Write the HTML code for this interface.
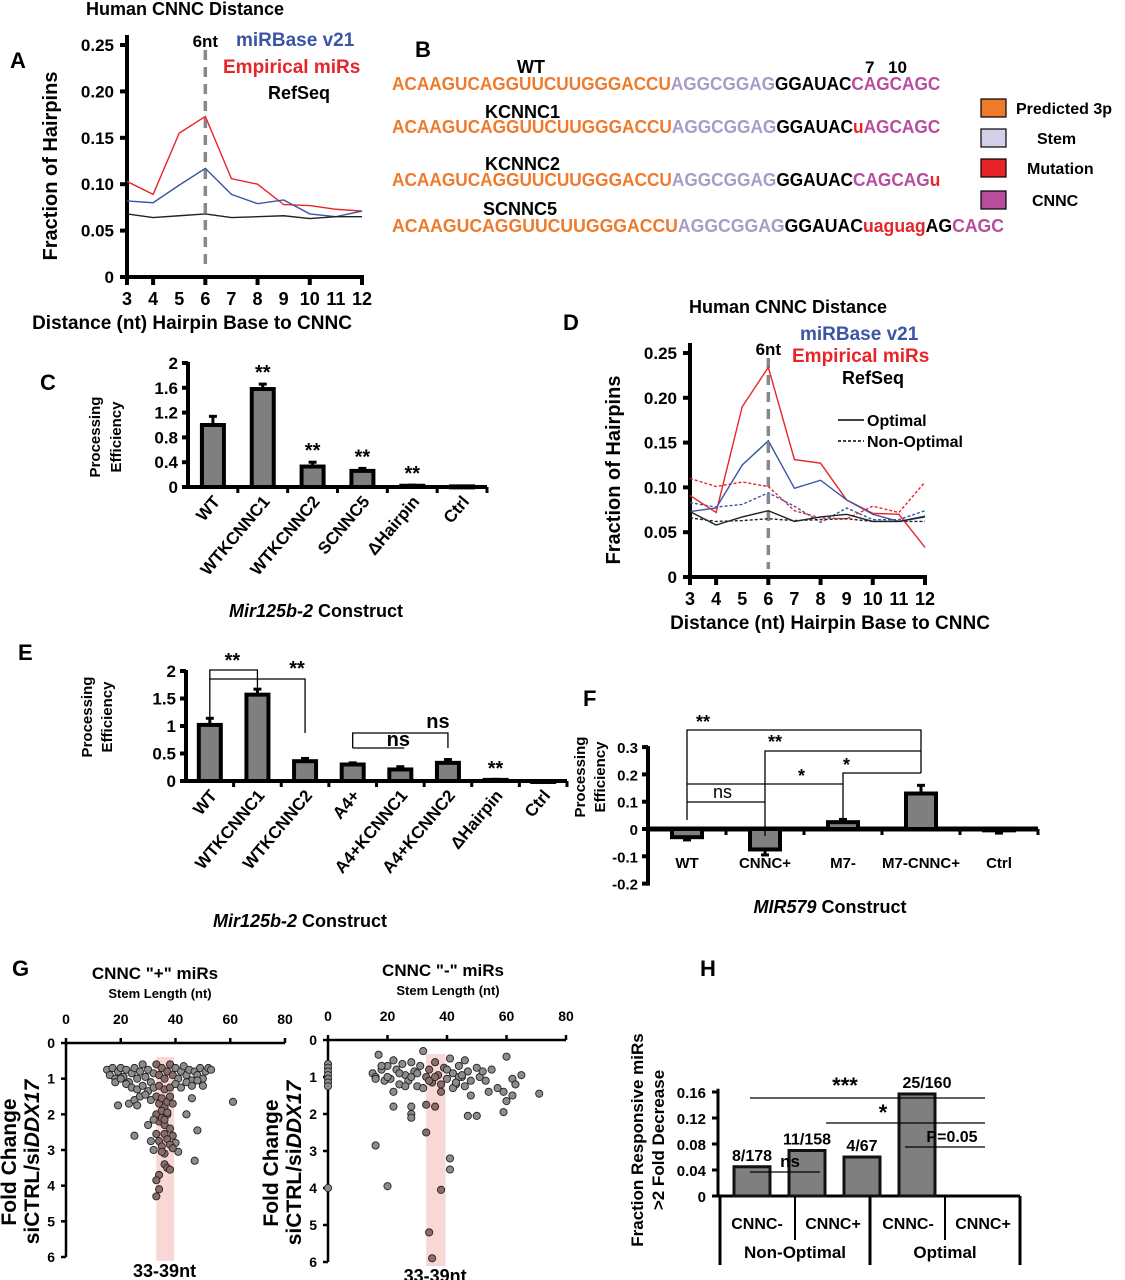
<!DOCTYPE html>
<html><head><meta charset="utf-8"><style>
body{margin:0;background:#fff}
svg{display:block;font-family:"Liberation Sans",Arial,sans-serif;font-weight:bold}
</style></head><body>
<svg id="fig" width="1125" height="1280" viewBox="0 0 1125 1280"></svg>
<script>
// ---------- DATA ----------
const distX=[3,4,5,6,7,8,9,10,11,12];
const aRed=[0.103,0.089,0.155,0.173,0.106,0.100,0.078,0.077,0.073,0.071];
const aBlue=[0.082,0.080,0.099,0.117,0.089,0.079,0.083,0.068,0.065,0.071];
const aBlack=[0.068,0.064,0.066,0.068,0.064,0.065,0.066,0.063,0.065,0.065];
const dRedOpt=[0.091,0.072,0.190,0.234,0.131,0.127,0.086,0.071,0.070,0.033];
const dBlueOpt=[0.073,0.077,0.125,0.152,0.099,0.108,0.086,0.070,0.062,0.068];
const dBlackOpt=[0.073,0.058,0.067,0.074,0.062,0.067,0.070,0.062,0.062,0.067];
const dRedNon=[0.110,0.101,0.106,0.101,0.074,0.066,0.065,0.079,0.072,0.106];
const dBlueNon=[0.083,0.078,0.081,0.094,0.079,0.061,0.077,0.064,0.064,0.074];
const dBlackNon=[0.066,0.062,0.063,0.065,0.063,0.064,0.065,0.062,0.062,0.062];
const hairTicks=[0,0.05,0.10,0.15,0.20,0.25];
const hairTickLabels=["0","0.05","0.10","0.15","0.20","0.25"];
const cCats=["WT","WTKCNNC1","WTKCNNC2","SCNNC5","ΔHairpin","Ctrl"];
const cVals=[1.0,1.58,0.33,0.26,0.02,0.01];
const cErr=[0.14,0.08,0.07,0.04,0.01,0.005];
const cTicks=[0,0.4,0.8,1.2,1.6,2];
const cTickLabels=["0","0.4","0.8","1.2","1.6","2"];
const eCats=["WT","WTKCNNC1","WTKCNNC2","A4+","A4+KCNNC1","A4+KCNNC2","ΔHairpin","Ctrl"];
const eVals=[1.02,1.57,0.36,0.30,0.21,0.33,0.02,0.0];
const eErr=[0.12,0.1,0.05,0.03,0.05,0.06,0.01,0.005];
const eTicks=[0,0.5,1,1.5,2];
const eTickLabels=["0","0.5","1","1.5","2"];
const fCats=["WT","CNNC+","M7-","M7-CNNC+","Ctrl"];
const fVals=[-0.03,-0.075,0.025,0.13,-0.005];
const fErr=[0.01,0.02,0.01,0.03,0.01];
const fTicks=[-0.2,-0.1,0,0.1,0.2,0.3];
const fTickLabels=["-0.2","-0.1","0","0.1","0.2","0.3"];
const gPlusStem=[15,16,17,18,19,20,21,22,23,24,25,26,27,28,29,30,31,32,33,34,35,36,37,38,39,40,41,42,43,44,45,46,47,48,49,50,51,52,53,18,20,22,24,26,28,30,32,34,36,38,40,42,44,46,48,50,19,23,25,26,27,29,31,33,34,35,36,37,38,39,46,61,33,34,35,36,37,38,39,40,41,30,32,25,36,37,38,33,34,35,36,31,32,44,48,47,39,35,36,37,38,34,33,34,33,36,35,37];
const gPlusFold=[0.75,0.9,0.7,1.0,0.8,0.7,0.95,0.75,1.1,0.85,0.7,1.0,0.8,0.6,0.95,0.75,1.1,0.85,0.6,0.9,0.7,1.0,0.8,0.6,0.9,0.7,1.0,0.8,0.65,0.9,0.75,1.05,0.8,0.9,0.7,1.0,0.8,0.7,0.75,1.1,1.0,1.15,1.25,1.3,1.2,1.35,1.25,1.2,1.3,1.25,1.15,1.25,1.1,1.2,1.05,1.2,1.75,1.7,1.6,1.75,1.5,1.45,1.6,1.5,1.7,1.55,1.8,1.65,1.5,1.7,1.55,1.65,2.0,2.2,2.1,2.3,2.0,2.4,2.6,2.8,3.05,2.3,2.15,2.6,2.55,2.7,2.85,2.55,2.75,2.9,3.1,2.75,3.0,2.0,2.45,3.3,2.95,3.05,3.4,3.5,3.55,3.7,3.85,4.1,4.3,2.15,1.9,1.95];
const gMinusStem=[0,0,0,0,0,0,0,0,15,16,17,18,19,20,21,22,23,24,25,26,27,28,29,30,31,32,33,34,35,36,37,38,39,40,41,42,43,44,45,46,47,48,50,51,52,53,55,57,60,62,63,65,71,16,18,20,22,24,26,28,30,32,34,36,38,40,42,44,46,48,22,28,33,36,28,28,47,50,54,59,60,59,62,33,16,41,41,20,38,34,35,45,43];
const gMinusFold=[0.65,0.75,0.85,0.95,1.05,1.15,1.25,4.0,0.9,1.0,0.4,0.8,1.1,0.7,1.05,0.55,0.8,1.2,0.65,0.95,1.1,0.6,0.85,1.25,0.7,0.3,1.0,0.8,1.15,0.6,0.95,1.2,0.75,1.05,0.5,0.9,1.2,0.7,1.0,0.55,0.85,1.1,0.75,1.0,0.85,1.1,0.8,1.3,0.45,1.05,1.2,0.95,1.45,1.05,0.7,1.0,1.4,0.9,1.25,1.0,0.9,1.3,1.1,1.0,1.4,0.8,1.3,1.0,1.25,1.5,1.8,1.8,1.75,1.8,2.0,2.1,2.05,2.05,1.4,1.4,1.65,1.95,1.5,2.5,2.85,3.2,3.5,3.95,4.05,5.2,5.9,0.95,1.15];
const gTicksX=[0,20,40,60,80];
const gTicksY=[0,1,2,3,4,5,6];
const hVals=[0.045,0.07,0.06,0.157];
const hLabels=["8/178","11/158","4/67","25/160"];
const hCats=["CNNC-","CNNC+","CNNC-","CNNC+"];
const hTicks=[0,0.04,0.08,0.12,0.16];
const hTickLabels=["0","0.04","0.08","0.12","0.16"];

// ---------- HELPERS ----------
const NS="http://www.w3.org/2000/svg";
const svg=document.getElementById('fig');
function mk(tag,attrs,parent){const e=document.createElementNS(NS,tag);for(const k in attrs)e.setAttribute(k,attrs[k]);(parent||svg).appendChild(e);return e;}
function txt(s,x,y,size,opts){opts=opts||{};const e=mk('text',{x:x,y:y,'font-size':size,fill:opts.fill||'#000','text-anchor':opts.anchor||'start'},opts.parent);
 if(opts.rot!==undefined)e.setAttribute('transform','rotate('+opts.rot+' '+x+' '+y+')');
 if(opts.weight)e.setAttribute('font-weight',opts.weight);
 e.textContent=s;
 
 
 return e;}
function line(x1,y1,x2,y2,stroke,w,parent,name,dash){const e=mk('line',{x1:x1,y1:y1,x2:x2,y2:y2,stroke:stroke,'stroke-width':w},parent);if(dash)e.setAttribute('stroke-dasharray',dash);
 
 return e;}
function group(name){const g=mk('g',{});return g;}
function poly(g,pts,n){const p=mk('polyline',{points:pts,fill:'none',stroke:'#000','stroke-width':1.3},g);}

// ---------- HAIRPIN LINE CHARTS (A, D) ----------
function hairpinChart(g,x0,x1,y0,y25,series,titleX){
 const sx=v=>x0+(v-3)*(x1-x0)/9;
 const sy=v=>y0-(v)*(y0-y25)/0.25;
 line(x0,y25-10,x0,y0+2,'#000',4,g,'y-axis');
 line(x0-2,y0,x1+2,y0,'#000',4,g,'x-axis');
 hairTicks.forEach((t,i)=>{line(x0-7,sy(t),x0,sy(t),'#000',4,g,'y-tick');txt(hairTickLabels[i],x0-13,sy(t)+6,17,{anchor:'end',parent:g,name:'y-tick-label'});});
 distX.forEach(v=>{if(v===3||v===4||v===6||v===8||v===10||v===12){line(sx(v),y0,sx(v),y0+8,'#000',4,g,'x-tick');}
   txt(String(v),sx(v),y0+28,18,{anchor:'middle',parent:g,name:'x-tick-label'});});
 line(sx(6),y25+5,sx(6),y0-8,'#888',3.5,g,'6nt-marker','10,7');
 txt('6nt',sx(6),y25+2,17,{anchor:'middle',parent:g,name:'6nt-label'});
 series.forEach(s=>{
  const p=mk('polyline',{points:distX.map((v,i)=>sx(v)+','+sy(s.d[i])).join(' '),fill:'none',stroke:s.c,'stroke-width':1.4},g);
  if(s.dash)p.setAttribute('stroke-dasharray','3,2');
  
  
 });
 txt('Fraction of Hairpins',x0-70,(y0+y25)/2+5,20,{anchor:'middle',rot:-90,parent:g,name:'y-axis-title'});
 txt('Distance (nt) Hairpin Base to CNNC',titleX,y0+52,19,{anchor:'middle',parent:g,name:'x-axis-title'});
}
let gA=group('panel-a');
txt('A',10,68,22,{parent:gA,name:'panel-label'});
txt('Human CNNC Distance',185,15,18,{anchor:'middle',parent:gA,name:'chart-title'});
hairpinChart(gA,127,362,277,45,[{d:aRed,c:'#e8242b',n:'empirical-line'},{d:aBlue,c:'#3b55a5',n:'mirbase-line'},{d:aBlack,c:'#222',n:'refseq-line'}],192);
txt('miRBase v21',236,46,19,{fill:'#3b55a5',parent:gA,name:'legend-mirbase'});
txt('Empirical miRs',223,73,19,{fill:'#e8242b',parent:gA,name:'legend-empirical'});
txt('RefSeq',268,99,18,{parent:gA,name:'legend-refseq'});

let gD=group('panel-d');
txt('D',563,330,22,{parent:gD,name:'panel-label'});
txt('Human CNNC Distance',788,313,18,{anchor:'middle',parent:gD,name:'chart-title'});
hairpinChart(gD,690,925,577,353,[
 {d:dRedNon,c:'#e8242b',n:'empirical-nonoptimal',dash:1},{d:dBlueNon,c:'#3b55a5',n:'mirbase-nonoptimal',dash:1},{d:dBlackNon,c:'#222',n:'refseq-nonoptimal',dash:1},
 {d:dRedOpt,c:'#e8242b',n:'empirical-optimal'},{d:dBlueOpt,c:'#3b55a5',n:'mirbase-optimal'},{d:dBlackOpt,c:'#222',n:'refseq-optimal'}],830);
txt('miRBase v21',800,340,19,{fill:'#3b55a5',parent:gD,name:'legend-mirbase'});
txt('Empirical miRs',792,362,19,{fill:'#e8242b',parent:gD,name:'legend-empirical'});
txt('RefSeq',842,384,18,{parent:gD,name:'legend-refseq'});
line(838,420,864,420,'#000',1.5,gD,'legend-optimal-line');
txt('Optimal',867,426,16,{parent:gD,name:'legend-optimal'});
line(838,441,864,441,'#000',1.5,gD,'legend-nonoptimal-line','3,2');
txt('Non-Optimal',867,447,16,{parent:gD,name:'legend-nonoptimal'});

// ---------- PANEL B ----------
let gB=group('panel-b');
txt('B',415,57,22,{parent:gB,name:'panel-label'});
const seqRows=[
 {lab:'WT',ly:73,lx:517,y:90,parts:[['ACAAGUCAGGUUCUUGGGACCU','#f07a2b'],['AGGCGGAG','#a99bc8'],['GGAUAC','#000'],['CAGCAGC','#b84d9d']]},
 {lab:'KCNNC1',ly:118,lx:485,y:133,parts:[['ACAAGUCAGGUUCUUGGGACCU','#f07a2b'],['AGGCGGAG','#a99bc8'],['GGAUAC','#000'],['u','#e8242b'],['AGCAGC','#b84d9d']]},
 {lab:'KCNNC2',ly:170,lx:485,y:186,parts:[['ACAAGUCAGGUUCUUGGGACCU','#f07a2b'],['AGGCGGAG','#a99bc8'],['GGAUAC','#000'],['CAGCAG','#b84d9d'],['u','#e8242b']]},
 {lab:'SCNNC5',ly:215,lx:483,y:232,parts:[['ACAAGUCAGGUUCUUGGGACCU','#f07a2b'],['AGGCGGAG','#a99bc8'],['GGAUAC','#000'],['uaguag','#e8242b'],['AG','#000'],['CAGC','#b84d9d']]}
];
seqRows.forEach(r=>{
 txt(r.lab,r.lx,r.ly,18,{parent:gB,name:'sequence-name'});
 const t=mk('text',{x:392,y:r.y,'font-size':18},gB);
 
 
 const n=r.parts.reduce((a,p)=>a+p[0].length,0);
 t.setAttribute('textLength',n*12.75);t.setAttribute('lengthAdjust','spacingAndGlyphs');
 r.parts.forEach(p=>{const s=mk('tspan',{fill:p[1]},t);s.textContent=p[0];});
});
txt('7',865,73,17,{parent:gB,name:'position-7'});
txt('10',888,73,17,{parent:gB,name:'position-10'});
const legB=[['Predicted 3p','#f07a2b',108,1016],['Stem','#d3d0ea',138,1037],['Mutation','#e8242b',168,1027],['CNNC','#b84d9d',200,1032]];
legB.forEach(l=>{const r=mk('rect',{x:981,y:l[2]-9,width:25,height:18,fill:l[1],stroke:'#000','stroke-width':1.2},gB);
 
 txt(l[0],l[3],l[2]+6,16,{parent:gB,name:'legend-label'});});

// ---------- BAR CHART HELPER ----------
function barChart(g,cats,vals,errs,ticks,tickLabels,cfg){
 const sy=v=>cfg.y0-v*cfg.ppu;
 const step=(cfg.x1-cfg.x0)/cats.length;
 const cx=i=>cfg.x0+step*(i+0.5);
 const yMin=ticks[0],yMax=ticks[ticks.length-1];
 line(cfg.x0,sy(yMax)-1,cfg.x0,sy(yMin)+2,'#000',4,g,'y-axis');
 line(cfg.x0,sy(0),cfg.x1,sy(0),'#000',cfg.axw||4,g,'x-axis');
 for(let i=1;i<=cats.length;i++)line(cfg.x0+step*i,sy(0),cfg.x0+step*i,sy(0)+6,'#000',3,g,'x-tick');
 ticks.forEach((t,i)=>{line(cfg.x0-6,sy(t),cfg.x0,sy(t),'#000',4,g,'y-tick');txt(tickLabels[i],cfg.x0-10,sy(t)+6,cfg.fs||17,{anchor:'end',parent:g,name:'y-tick-label'});});
 cats.forEach((c,i)=>{
  const v=vals[i],top=Math.min(sy(v),sy(0)),h=Math.max(Math.abs(sy(v)-sy(0)),1);
  const ey=sy(v+(v>=0?errs[i]:-errs[i]));
  line(cx(i),sy(v),cx(i),ey,'#000',3,g,'error-bar');
  line(cx(i)-4,ey,cx(i)+4,ey,'#000',3,g,'error-cap');
  const r=mk('rect',{x:cx(i)-cfg.bw/2,y:top,width:cfg.bw,height:h,fill:'#7f7f7f',stroke:'#000','stroke-width':cfg.sw||4},g);
  
  
  if(cfg.rot) txt(c,cx(i)+8,cfg.labY,17,{anchor:'end',rot:-50,parent:g,name:'x-tick-label'});
  else txt(c,cx(i),cfg.labY,15,{anchor:'middle',parent:g,name:'x-tick-label'});
 });
 return {sy,cx};
}

// ---------- PANEL C ----------
let gC=group('panel-c');
txt('C',40,390,22,{parent:gC,name:'panel-label'});
const cs=barChart(gC,cCats,cVals,cErr,cTicks,cTickLabels,{x0:188,x1:487,y0:487,ppu:62,bw:22,labY:502,rot:1});
['','**','**','**','**',''].forEach((s,i)=>{if(s)txt(s,cs.cx(i),cs.sy(cVals[i]+cErr[i])-5,20,{anchor:'middle',parent:gC,name:'significance'});});
txt('Processing',100,437,15,{anchor:'middle',rot:-90,parent:gC,name:'y-axis-title'});
txt('Efficiency',121,437,15,{anchor:'middle',rot:-90,parent:gC,name:'y-axis-title'});
const tc=txt('',316,617,18,{anchor:'middle',parent:gC,name:'x-axis-title'});
tc.innerHTML='<tspan font-style="italic">Mir125b-2</tspan> Construct';

// ---------- PANEL E ----------
let gE=group('panel-e');
txt('E',18,660,22,{parent:gE,name:'panel-label'});
const es=barChart(gE,eCats,eVals,eErr,eTicks,eTickLabels,{x0:186,x1:567,y0:781,ppu:55,bw:22,labY:796,rot:1});
txt('Processing',92,717,15,{anchor:'middle',rot:-90,parent:gE,name:'y-axis-title'});
txt('Efficiency',112,717,15,{anchor:'middle',rot:-90,parent:gE,name:'y-axis-title'});
poly(gE,`${es.cx(0)},${es.sy(1.16)} ${es.cx(0)},670 ${es.cx(1)},670 ${es.cx(1)},${es.sy(1.68)}`,'bracket-wt-kcnnc1');
poly(gE,`${es.cx(0)},679 ${es.cx(2)},679 ${es.cx(2)},733`,'bracket-wt-kcnnc2');
txt('**',es.cx(1)-25,667,20,{anchor:'middle',parent:gE,name:'significance'});
txt('**',es.cx(2)-8,675,20,{anchor:'middle',parent:gE,name:'significance'});
poly(gE,`${es.cx(3)},748 ${es.cx(3)},733 ${es.cx(5)},733 ${es.cx(5)},748`,'bracket-ns-top');
poly(gE,`${es.cx(3)},748 ${es.cx(4)+4},748`,'bracket-ns-bottom');
txt('ns',es.cx(5)-10,728,20,{anchor:'middle',parent:gE,name:'significance'});
txt('ns',es.cx(4)-2,746,20,{anchor:'middle',parent:gE,name:'significance'});
txt('**',es.cx(6),775,20,{anchor:'middle',parent:gE,name:'significance'});
const te=txt('',300,927,18,{anchor:'middle',parent:gE,name:'x-axis-title'});
te.innerHTML='<tspan font-style="italic">Mir125b-2</tspan> Construct';

// ---------- PANEL F ----------
let gF=group('panel-f');
txt('F',583,706,22,{parent:gF,name:'panel-label'});
const fs=barChart(gF,fCats,fVals,fErr,fTicks,fTickLabels,{x0:648,x1:1038,y0:829,ppu:273,bw:30,sw:4,labY:868,fs:15,axw:5});
txt('Processing',585,777,15,{anchor:'middle',rot:-90,parent:gF,name:'y-axis-title'});
txt('Efficiency',605,777,15,{anchor:'middle',rot:-90,parent:gF,name:'y-axis-title'});
poly(gF,`${fs.cx(0)},820 ${fs.cx(0)},730 ${fs.cx(3)},730 ${fs.cx(3)},773`,'bracket-wt-m7cnnc');
poly(gF,`${fs.cx(1)},836 ${fs.cx(1)},751 ${fs.cx(3)},751`,'bracket-cnnc-m7cnnc');
poly(gF,`${fs.cx(2)},820 ${fs.cx(2)},773 ${fs.cx(3)},773`,'bracket-m7-m7cnnc');
poly(gF,`${fs.cx(0)},784 ${fs.cx(2)},784`,'bracket-wt-m7');
poly(gF,`${fs.cx(0)},802 ${fs.cx(1)},802`,'bracket-wt-cnnc');
txt('**',696,728,18,{parent:gF,name:'significance'});
txt('**',768,748,18,{parent:gF,name:'significance'});
txt('*',843,771,18,{parent:gF,name:'significance'});
txt('*',798,782,18,{parent:gF,name:'significance'});
txt('ns',713,798,18,{parent:gF,name:'significance',weight:'normal'});
const tf=txt('',830,913,18,{anchor:'middle',parent:gF,name:'x-axis-title'});
tf.innerHTML='<tspan font-style="italic">MIR579</tspan> Construct';

// ---------- PANEL G ----------
let gG=group('panel-g');
txt('G',12,976,22,{parent:gG,name:'panel-label'});
function scatter(g,stem,fold,x0,xEnd,y0,y6,title,tx){
 const sx=v=>x0+v*(xEnd-x0)/80, sy=v=>y0+v*(y6-y0)/6;
 const band=mk('rect',{x:sx(33),y:y0+14,width:sx(39.5)-sx(33),height:y6-y0-10,fill:'#f8d7d5'},g);
 
 line(x0,y0,xEnd,y0,'#000',2.5,g,'x-axis');
 line(x0,y0,x0,y6,'#000',2.5,g,'y-axis');
 gTicksX.forEach(t=>{line(sx(t),y0,sx(t),y0-5,'#000',2.5,g,'x-tick');txt(String(t),sx(t),y0-19,14,{anchor:'middle',parent:g,name:'x-tick-label'});});
 gTicksY.forEach(t=>{line(x0,sy(t),x0-5,sy(t),'#000',2.5,g,'y-tick');txt(String(t),x0-11,sy(t)+5,14,{anchor:'end',parent:g,name:'y-tick-label'});});
 stem.forEach((s,i)=>{const inBand=s>=33&&s<=39;
  const c=mk('circle',{cx:sx(s),cy:sy(fold[i]),r:3.6,fill:inBand?'#8a6c6a':'#8c8c8c',stroke:'#222','stroke-width':0.9},g);
  });
 txt(title,tx,y0-64,17,{anchor:'middle',parent:g,name:'chart-title'});
 txt('Stem Length (nt)',tx+5,y0-45,13,{anchor:'middle',parent:g,name:'x-axis-title'});
 txt('33-39nt',sx(36),y6+20,18,{anchor:'middle',parent:g,name:'band-label'});
 txt('Fold Change',x0-50,(y0+y6)/2+12,21,{anchor:'middle',rot:-90,parent:g,name:'y-axis-title'});
 const t2=txt('',x0-27,(y0+y6)/2+12,21,{anchor:'middle',rot:-90,parent:g,name:'y-axis-title'});
 t2.innerHTML='siCTRL/si<tspan font-style="italic">DDX17</tspan>';
}
scatter(gG,gPlusStem,gPlusFold,66,285,1043,1257,'CNNC "+" miRs',155);
scatter(gG,gMinusStem,gMinusFold,328,566,1040,1262,'CNNC "-" miRs',443);

// ---------- PANEL H ----------
let gH=group('panel-h');
txt('H',700,976,22,{parent:gH,name:'panel-label'});
const hx=[752,807,862,917];
const hy=v=>1196-v*650;
line(718,hy(0.165),718,1196,'#000',3,gH,'y-axis');
line(718,1196,1020,1196,'#000',3,gH,'x-axis');
hTicks.forEach((t,i)=>{line(712,hy(t),718,hy(t),'#000',3,gH,'y-tick');txt(hTickLabels[i],706,hy(t)+6,15,{anchor:'end',parent:gH,name:'y-tick-label'});});
hVals.forEach((v,i)=>{const r=mk('rect',{x:hx[i]-18,y:hy(v),width:36,height:1196-hy(v),fill:'#7f7f7f',stroke:'#111','stroke-width':3},gH);
 
 txt(hLabels[i],hx[i]+(i===3?10:0),hy(v)-6,16,{anchor:'middle',parent:gH,name:'bar-value-label'});});
line(720,1196,720,1265,'#000',3,gH,'table-line');
line(1020,1196,1020,1265,'#000',3,gH,'table-line');
line(870,1196,870,1265,'#000',3,gH,'table-line');
line(795,1196,795,1240,'#000',2,gH,'table-line');
line(945,1196,945,1240,'#000',2,gH,'table-line');
hCats.forEach((c,i)=>txt(c,[757,833,908,983][i],1229,16,{anchor:'middle',parent:gH,name:'table-cnnc-label'}));
txt('Non-Optimal',795,1258,17,{anchor:'middle',parent:gH,name:'table-group-label'});
txt('Optimal',945,1258,17,{anchor:'middle',parent:gH,name:'table-group-label'});
line(750,1098,985,1098,'#000',1.3,gH,'sig-line');
line(826,1123,985,1123,'#000',1.3,gH,'sig-line');
line(905,1147,985,1147,'#000',1.3,gH,'sig-line');
line(750,1172,820,1172,'#000',1.3,gH,'sig-line');
txt('***',845,1093,22,{anchor:'middle',parent:gH,name:'significance'});
txt('*',883,1120,22,{anchor:'middle',parent:gH,name:'significance'});
txt('P=0.05',952,1142,16,{anchor:'middle',parent:gH,name:'significance'});
txt('ns',790,1167,17,{anchor:'middle',parent:gH,name:'significance'});
txt('Fraction Responsive miRs',643,1140,17,{anchor:'middle',rot:-90,parent:gH,name:'y-axis-title'});
txt('>2 Fold Decrease',664,1140,17,{anchor:'middle',rot:-90,parent:gH,name:'y-axis-title'});
</script>
</body></html>
